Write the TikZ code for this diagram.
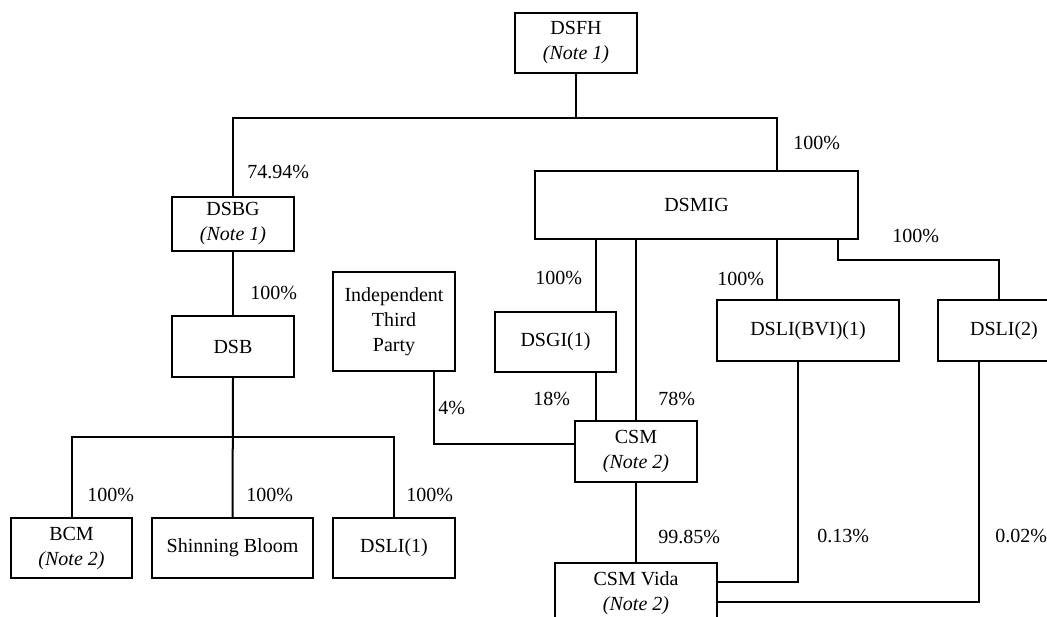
\documentclass[tikz,border=0pt]{standalone}
\usepackage{fontspec}
\setmainfont{Liberation Serif}
\begin{document}
\begin{tikzpicture}[x=0.5pt,y=-0.5pt,
  box/.style={draw,line width=1pt,rectangle,inner sep=0pt,align=center,font=\fontsize{10pt}{12.5pt}\selectfont},
  pct/.style={anchor=west,inner sep=0pt,font=\fontsize{10pt}{12pt}\selectfont},
  conn/.style={line width=1pt}]
\clip (0,0) rectangle (1047,616);
% boxes
\node[box,minimum width=61pt,minimum height=30pt] (DSFH) at (576,43) {DSFH\\\textit{(Note 1)}};
\node[box,minimum width=61pt,minimum height=27pt] (DSBG) at (233,224) {DSBG\\\textit{(Note 1)}};
\node[box,minimum width=161.5pt,minimum height=34pt] (DSMIG) at (696.5,205) {DSMIG};
\node[box,minimum width=61pt,minimum height=30.5pt] (DSB) at (233,346.5) {DSB};
\node[box,minimum width=61pt,minimum height=49.5pt] (IND) at (394,321.5) {Independent\\Third\\Party};
\node[box,minimum width=60.5pt,minimum height=30pt] (DSGI) at (555.5,342) {DSGI(1)};
\node[box,minimum width=91pt,minimum height=30.5pt] (BVI) at (808,330.5) {DSLI(BVI)(1)};
\node[box,minimum width=66pt,minimum height=30.5pt] (DSLI2) at (1004,330.5) {DSLI(2)};
\node[box,minimum width=61pt,minimum height=30.5pt] (CSM) at (636,451.5) {CSM\\\textit{(Note 2)}};
\node[box,minimum width=81pt,minimum height=30.5pt] (CSMV) at (636,593.5) {CSM Vida\\\textit{(Note 2)}};
\node[box,minimum width=60.5pt,minimum height=30pt] (BCM) at (71.5,548) {BCM\\\textit{(Note 2)}};
\node[box,minimum width=80.5pt,minimum height=30pt] (SB) at (232.5,548) {Shinning Bloom};
\node[box,minimum width=61pt,minimum height=30pt] (DSLI1) at (394,548) {DSLI(1)};
% junction coordinates
\coordinate (j1) at (576,118);
\coordinate (m1) at (777,171);
\coordinate (j2) at (233,437);
\coordinate (g1) at (596,239);
\coordinate (m2) at (777,239);
\coordinate (m3) at (838,239);
\coordinate (d2t) at (999,300);
\coordinate (i1) at (434,371);
\coordinate (c4) at (575,444);
\coordinate (b1) at (798,361);
\coordinate (v1) at (717,582);
\coordinate (b2) at (979,361);
\coordinate (v2) at (717,602);
% connectors
\draw[conn] (DSFH.south) -- (j1);
\draw[conn] (DSBG.north) |- (j1) -| (m1);
\draw[conn] (DSBG.south) -- (DSB.north);
\draw[conn] (DSB.south) -- (SB.north);
\draw[conn] (BCM.north) |- (j2) -| (DSLI1.north);
\draw[conn] (g1) -- (g1 |- DSGI.north);
\draw[conn] (DSGI.south -| g1) -- (CSM.north -| g1);
\draw[conn] (CSM.north) -- (CSM.north |- DSMIG.south);
\draw[conn] (i1) |- (c4);
\draw[conn] (m2) -- (m2 |- BVI.north);
\draw[conn] (m3) -- ++(0,21) -| (d2t);
\draw[conn] (b1) |- (v1);
\draw[conn] (b2) |- (v2);
\draw[conn] (CSM.south) -- (CSMV.north);
% labels
\node[pct] (l1) at (247,172) {74.94\%};
\node[pct] (l2) at (793,143) {100\%};
\node[pct] (l3) at (250,293) {100\%};
\node[pct] (l4) at (535,278) {100\%};
\node[pct] (l5) at (717,279) {100\%};
\node[pct] (l6) at (892,236) {100\%};
\node[pct] (l7) at (438,408) {4\%};
\node[pct] (l8) at (533,399) {18\%};
\node[pct] (l9) at (658,399) {78\%};
\node[pct] (l10) at (87,495) {100\%};
\node[pct] (l11) at (246,495) {100\%};
\node[pct] (l12) at (406,495) {100\%};
\node[pct] (l13) at (658,537) {99.85\%};
\node[pct] (l14) at (817,536) {0.13\%};
\node[pct] (l15) at (995,536) {0.02\%};
\end{tikzpicture}
\end{document}
